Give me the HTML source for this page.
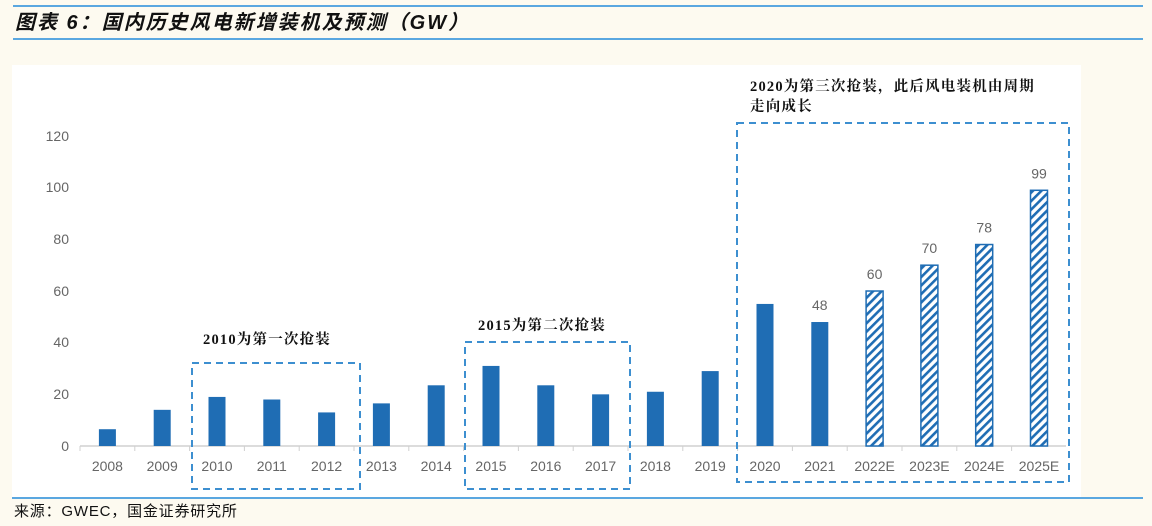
<!DOCTYPE html>
<html><head><meta charset="utf-8"><style>
body{margin:0;background:#fdfaf0;}
svg{display:block;}
</style></head><body>
<svg width="1152" height="526" xmlns="http://www.w3.org/2000/svg">
<defs>
<pattern id="h" patternUnits="userSpaceOnUse" width="6" height="6" patternTransform="rotate(45)">
<rect width="6" height="6" fill="#fff"/><rect width="2.6" height="6" fill="#1f6db4"/>
</pattern>
</defs>
<rect width="1152" height="526" fill="#fdfaf0"/>
<line x1="13" y1="6" x2="1143" y2="6" stroke="#5aa7e0" stroke-width="2"/>
<line x1="13" y1="39" x2="1143" y2="39" stroke="#5aa7e0" stroke-width="2"/>
<text x="15" y="29" font-family="Liberation Sans, Noto Sans CJK SC, sans-serif" font-size="20" font-weight="bold" font-style="italic" letter-spacing="2" fill="#111">图表 6：国内历史风电新增装机及预测（GW）</text>
<rect x="12" y="65" width="1069" height="432" fill="#fff"/>
<line x1="12" y1="498" x2="1143" y2="498" stroke="#5aa7e0" stroke-width="2"/>
<text x="14" y="516" font-family="Liberation Sans, Noto Sans CJK SC, sans-serif" font-size="15" letter-spacing="0.8" fill="#111">来源：GWEC，国金证券研究所</text>
<g font-family="Liberation Sans, sans-serif" font-size="14" fill="#666" text-anchor="end">
<text x="69" y="451">0</text><text x="69" y="399">20</text><text x="69" y="347">40</text><text x="69" y="296">60</text><text x="69" y="244">80</text><text x="69" y="192">100</text><text x="69" y="141">120</text>
</g>
<line x1="80" y1="446" x2="1066" y2="446" stroke="#d0d0d0" stroke-width="1.5"/>
<g id="bars"></g>
<g font-family="Liberation Sans, sans-serif" font-size="14" fill="#666" text-anchor="middle" id="lbl"></g>
<g fill="none" stroke="#3d8fd0" stroke-width="2" stroke-dasharray="7,5">
<rect x="192" y="363" width="168" height="126"/>
<rect x="465" y="342" width="165" height="147"/>
<rect x="737" y="123" width="332" height="359"/>
</g>
<g font-family="Liberation Serif, Noto Serif CJK SC, serif" font-size="14.5" font-weight="bold" fill="#111" letter-spacing="1.2">
<text x="203" y="344">2010为第一次抢装</text>
<text x="478" y="330">2015为第二次抢装</text>
<text x="750" y="91">2020为第三次抢装，此后风电装机由周期</text>
<text x="750" y="111">走向成长</text>
</g>
<script>
var v=[6.5,14,19,18,13,16.5,23.5,31,23.5,20,21,29,55,48,60,70,78,99];
var c=["2008","2009","2010","2011","2012","2013","2014","2015","2016","2017","2018","2019","2020","2021","2022E","2023E","2024E","2025E"];
var ns="http://www.w3.org/2000/svg";
var g=document.getElementById("bars"),t=document.getElementById("lbl");
for(var i=0;i<18;i++){
 var cx=107.4+i*54.8,h=v[i]*2.583,y=446-h;
 var r=document.createElementNS(ns,"rect");
 r.setAttribute("x",cx-8.5);r.setAttribute("y",y);r.setAttribute("width",17);r.setAttribute("height",h);
 if(i>=14){r.setAttribute("fill","url(#h)");r.setAttribute("stroke","#1f6db4");r.setAttribute("stroke-width","1.5");}
 else r.setAttribute("fill","#1f6db4");
 g.appendChild(r);
 var tk=document.createElementNS(ns,"line");
 var tx=80+i*54.8;tk.setAttribute("x1",tx);tk.setAttribute("x2",tx);tk.setAttribute("y1",446);tk.setAttribute("y2",451);tk.setAttribute("stroke","#d0d0d0");g.appendChild(tk);
 var tt=document.createElementNS(ns,"text");tt.setAttribute("x",cx);tt.setAttribute("y",471);tt.textContent=c[i];t.appendChild(tt);
 if(i>=13){var d=document.createElementNS(ns,"text");d.setAttribute("x",cx);d.setAttribute("y",y-12);d.textContent=Math.round(v[i]);t.appendChild(d);}
}
</script>
</svg>
</body></html>
